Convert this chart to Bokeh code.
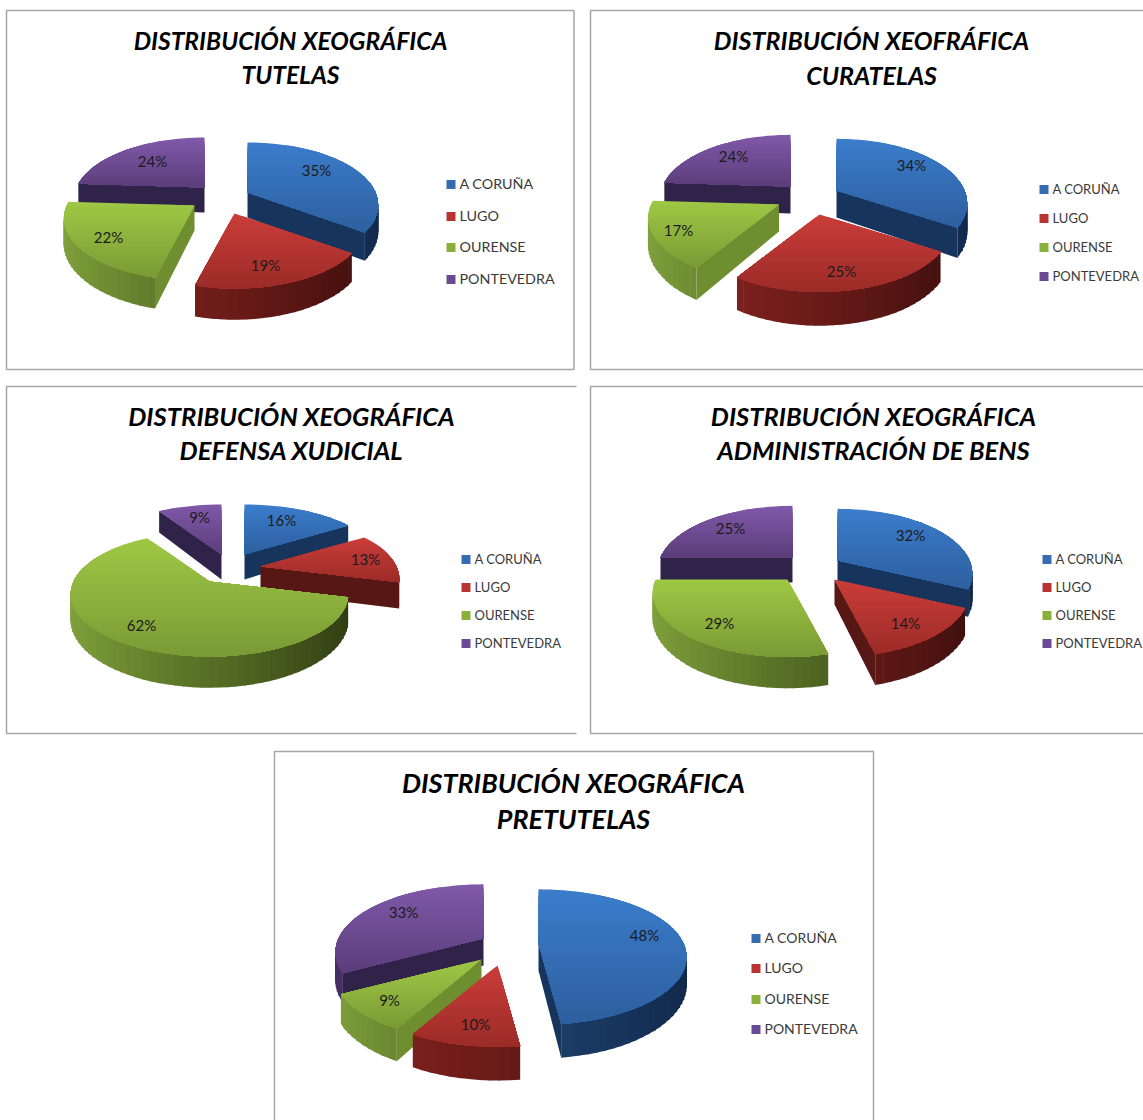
import math
from bokeh.plotting import figure
from bokeh.models import Range1d, ColumnDataSource
from bokeh.core.properties import value
from bokeh.embed import file_html
from bokeh.resources import INLINE

# ---------- data ----------
categories = ["A CORUÑA", "LUGO", "OURENSE", "PONTEVEDRA"]
tutelas = [35, 19, 22, 24]
curatelas = [34, 25, 17, 24]
defensa = [16, 13, 62, 9]
administracion = [32, 14, 29, 25]
pretutelas = [48, 10, 9, 33]
title_tutelas = ["DISTRIBUCIÓN XEOGRÁFICA", "TUTELAS"]
title_curatelas = ["DISTRIBUCIÓN XEOFRÁFICA", "CURATELAS"]
title_defensa = ["DISTRIBUCIÓN XEOGRÁFICA", "DEFENSA XUDICIAL"]
title_admin = ["DISTRIBUCIÓN XEOGRÁFICA", "ADMINISTRACIÓN DE BENS"]
title_pre = ["DISTRIBUCIÓN XEOGRÁFICA", "PRETUTELAS"]

# ---------- styles ----------
TOP = [("#3b7dcc", "#2d5f9e"), ("#cb3d39", "#9b2b28"), ("#9fc845", "#7a9a35"), ("#8059a9", "#5b3d7a")]
ARC = [("#2a5488", "#1d3f6a", "#11284a"), ("#8a2522", "#6a1b18", "#3c0f0d"),
       ("#82a33d", "#566f25", "#2e3a12"), ("#463066", "#33254f", "#241a3a")]
RADIAL = ["#17355c", "#561715", "#6f8e2f", "#30234a"]
LEG = ["#376db0", "#b83433", "#8ab03c", "#6a4a94"]
PERSP = 0.2

charts = [
    dict(values=tutelas, title=title_tutelas, kx=128, ky=60, d=25,
         apex=[(247, 192), (234, 213), (194, 205), (204, 187)],
         labels=[(316, 170), (265, 265), (108, 237), (152, 161)],
         tx=290, ty=(40, 74), ts=24.6,
         lx=446, ly=[184, 216, 247, 279], ls=14.3,
         frame=[(573.5, 10), (6, 10), (6, 369), (573.5, 369), (573.5, 10)]),
    dict(values=curatelas, title=title_curatelas, kx=128, ky=62, d=27,
         apex=[(836, 190), (819, 214), (778.5, 204), (790, 186)],
         labels=[(911, 165), (841, 271), (678, 230), (733, 156)],
         tx=871, ty=(39, 74), ts=25,
         lx=1039, ly=[189, 218, 247, 276], ls=13,
         frame=[(1143, 10), (590, 10), (590, 369), (1143, 369)]),
    dict(values=defensa, title=title_defensa, kx=136, ky=60, d=25,
         apex=[(244, 554), (260, 566), (209, 581), (221, 554)],
         labels=[(281, 520), (365, 559), (141, 625), (199, 517)],
         tx=291, ty=(415, 449), ts=25.6,
         lx=461, ly=[559, 587, 615, 643], ls=13,
         frame=[(576, 386), (6, 386), (6, 733), (576, 733)]),
    dict(values=administracion, title=title_admin, kx=132, ky=62, d=25,
         apex=[(837, 560), (834, 579), (787, 579), (792, 557)],
         labels=[(910, 535), (905, 623), (719, 623), (730, 528)],
         tx=873, ty=(415, 449), ts=25.5,
         lx=1042, ly=[559, 587, 615, 643], ls=13,
         frame=[(1143, 386), (590, 386), (590, 733), (1143, 733)]),
    dict(values=pretutelas, title=title_pre, kx=145, ky=65, d=27,
         apex=[(538, 943), (497, 965), (481, 959), (483, 938)],
         labels=[(644, 935), (475, 1024), (389, 1000), (403, 912)],
         tx=573, ty=(782, 818), ts=26.9,
         lx=751, ly=[938, 968, 999, 1029], ls=14,
         frame=[(274, 1120), (274, 751), (873, 751), (873, 1120)]),
]


def mix(c1, c2, t):
    a = [int(c1[i:i + 2], 16) for i in (1, 3, 5)]
    b = [int(c2[i:i + 2], 16) for i in (1, 3, 5)]
    return "#%02x%02x%02x" % tuple(round(u + (v - u) * t) for u, v in zip(a, b))


def ramp3(cols, t):
    return mix(cols[0], cols[1], t * 2) if t < .5 else mix(cols[1], cols[2], t * 2 - 1)


def project(ch, apex, theta, r=1.0):
    X, Y = r * math.sin(theta), r * math.cos(theta)
    w = 1 + PERSP * Y
    return apex[0] + ch["kx"] * X / w, apex[1] - ch["ky"] * Y / w, ch["d"] / w


def clip_y(poly, y0, keep_below):
    out = []
    inside = (lambda p: p[1] >= y0) if keep_below else (lambda p: p[1] <= y0)
    for i, p in enumerate(poly):
        q = poly[(i + 1) % len(poly)]
        if inside(p):
            out.append(p)
        if inside(p) != inside(q):
            t = (y0 - p[1]) / (q[1] - p[1])
            out.append((p[0] + (q[0] - p[0]) * t, y0))
    return out


def slice_faces(ch, i, a0, a1):
    """Polygons (xs, ys, colour) for one 3D slice, given its angular extent from the values."""
    apex = ch["apex"][i]
    n = max(6, int((a1 - a0) / math.radians(3)))
    angs = [a0 + (a1 - a0) * k / n for k in range(n + 1)]
    arc = [project(ch, apex, a) for a in angs]
    top = [(apex[0], apex[1])] + [(q[0], q[1]) for q in arc]
    depth = [ch["d"]] + [q[2] for q in arc]
    walls = []
    m = len(top)
    for k in range(m):
        j = (k + 1) % m
        a, b = top[k], top[j]
        if b[0] - a[0] >= 0:  # slice runs clockwise on screen: this edge faces away from the viewer
            continue
        if k == 0 or j == 0:
            col = RADIAL[i]
            pad = 0
        else:
            th = (angs[k - 1] + angs[j - 1]) / 2
            col = ramp3(ARC[i], (math.sin(th) + 1) / 2)
            pad = 0.5 if 1 < k < m - 2 else 0  # overlap neighbouring strips, hides hairline seams
        xs = [a[0] + pad, b[0] - pad, b[0] - pad, a[0] + pad]
        ys = [a[1], b[1], b[1] + depth[j], a[1] + depth[k]]
        walls.append(((a[1] + b[1]) / 2, xs, ys, col))
    walls.sort(key=lambda f: f[0])
    faces = [(w[1], w[2], w[3]) for w in walls]
    # top surface: vertical gradient in thin bands, each running under the next
    ymin, ymax = min(q[1] for q in top), max(q[1] for q in top)
    bands = max(4, int((ymax - ymin) / 3))
    for b in range(bands):
        y0 = ymin + (ymax - ymin) * b / bands
        poly = clip_y(top, y0, True)
        if len(poly) >= 3:
            faces.append(([q[0] for q in poly], [q[1] for q in poly], mix(TOP[i][0], TOP[i][1], (b + .5) / bands)))
    return faces


p = figure(width=1143, height=1120, output_backend="svg", toolbar_location=None,
           x_range=Range1d(0, 1143), y_range=Range1d(1120, 0),
           x_axis_type=None, y_axis_type=None, min_border=0, outline_line_color=None)
p.grid.visible = False
p.styles = {"position": "absolute", "left": "0px", "top": "0px"}

for ch in charts:
    fx, fy = zip(*ch["frame"])
    p.line(list(fx), list(fy), line_color="#a6a6a6", line_width=1.5)

    total = sum(ch["values"])
    cum = 0
    spans = []
    for v in ch["values"]:
        spans.append((cum / total * 2 * math.pi, (cum + v) / total * 2 * math.pi))
        cum += v
    # back slices first
    order = sorted(range(4), key=lambda i: ch["apex"][i][1] - ch["ky"] * math.cos(sum(spans[i]) / 2))
    XS, YS, CS = [], [], []
    for i in order:
        for xs, ys, c in slice_faces(ch, i, *spans[i]):
            XS.append(xs); YS.append(ys); CS.append(c)
    p.patches("xs", "ys", fill_color="c", line_color=None,
              source=ColumnDataSource(dict(xs=XS, ys=YS, c=CS)))

    p.text([l[0] for l in ch["labels"]], [l[1] - 1 for l in ch["labels"]],
           text=[f"{v}%" for v in ch["values"]], text_font=value("Lato"),
           text_font_size="15px", text_color="#1c1c1c", text_align="center", text_baseline="middle")
    p.text([ch["tx"]] * 2, list(ch["ty"]), text=ch["title"], text_font=value("Lato"),
           text_font_style="bold italic", text_font_size=f'{ch["ts"]}px', text_color="#000000",
           text_align="center", text_baseline="middle")
    p.scatter([ch["lx"] + 4.5] * 4, ch["ly"], marker="square", size=9, color=LEG, line_color=None)
    p.text([ch["lx"] + 13] * 4, [y - 1 for y in ch["ly"]], text=categories, text_font=value("Lato"),
           text_font_size=f'{ch["ls"]}px', text_color="#3a3a3a", text_align="left", text_baseline="middle")

open("out.html", "w").write(file_html(p, INLINE))
